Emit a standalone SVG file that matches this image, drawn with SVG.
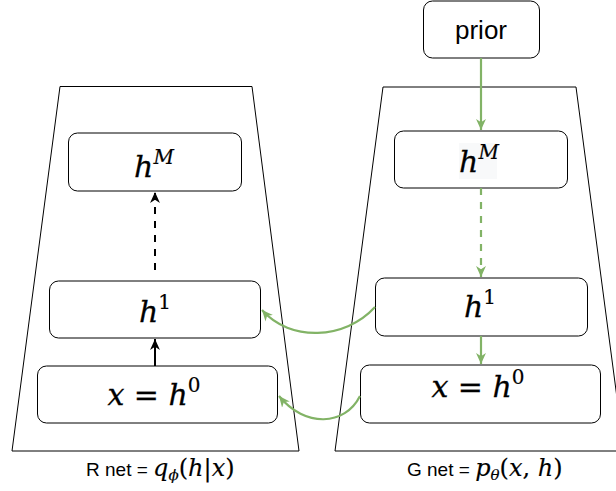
<svg xmlns="http://www.w3.org/2000/svg" width="616" height="491" viewBox="0 0 616 491">
<defs>
<style>
.trap{fill:#fff;stroke:#000;stroke-width:1}
.box{fill:#fff;stroke:#000;stroke-width:1}
.m{font-family:"DejaVu Serif","Liberation Serif",serif;font-style:italic;font-size:30px;fill:#000;stroke:#000;stroke-width:0.3;text-anchor:middle}
.up{font-style:normal}
.sup{font-size:20px;stroke-width:0.2}
.lbl{font-family:"Liberation Sans",Arial,sans-serif;font-size:19px;fill:#000}
.lm{font-family:"DejaVu Serif","Liberation Serif",serif;font-style:italic;font-size:24px;stroke:#000;stroke-width:0.15}
.sub{font-size:15px}
.k{stroke:#000;stroke-width:2;fill:none}
.g{stroke:#82b366;stroke-width:2.2;fill:none}
.d{stroke-dasharray:7 7}
</style>
<marker id="ak" viewBox="0 0 10 10" refX="10" refY="5" markerWidth="11" markerHeight="11" markerUnits="userSpaceOnUse" orient="auto"><path d="M0,0.5 L10,5 L0,9.5 L3,5 z" fill="#000"/></marker>
<marker id="ag" viewBox="0 0 10 10" refX="10" refY="5" markerWidth="11" markerHeight="11" markerUnits="userSpaceOnUse" orient="auto"><path d="M0,0.5 L10,5 L0,9.5 L3,5 z" fill="#82b366"/></marker>
</defs>
<rect width="616" height="491" fill="#fff"/>
<g id="rnet-frame"><path class="trap" d="M60,86.5 L252,86.5 L299,451 L12,451 Z"/></g>
<g id="gnet-frame"><path class="trap" d="M383,87 L576,87 L624,451 L335,451 Z"/></g>
<g id="r-hM"><rect class="box" x="68.5" y="133" width="173" height="58" rx="9"/><text class="m" x="154" y="177">h<tspan class="sup" dy="-13">M</tspan></text></g>
<g id="r-h1"><rect class="box" x="49.5" y="281" width="211" height="57" rx="9"/><text class="m" x="155" y="322">h<tspan class="sup up" dy="-13">1</tspan></text></g>
<g id="r-x"><rect class="box" x="37.5" y="366" width="240" height="57" rx="9"/><text class="m" x="154" y="405">x <tspan class="up">=</tspan> h<tspan class="sup up" dy="-13">0</tspan></text></g>
<g id="prior"><rect class="box" x="423.5" y="1" width="116" height="57" rx="9"/><text class="lbl" x="481" y="39" text-anchor="middle" style="font-size:26px">prior</text></g>
<g id="g-hM"><rect class="box" x="394.5" y="131" width="173" height="57" rx="9"/><rect x="459" y="143" width="38" height="36" fill="#f8f9fa"/><text class="m" x="479" y="172">h<tspan class="sup" dy="-13">M</tspan></text></g>
<g id="g-h1"><rect class="box" x="375.5" y="278" width="212" height="58" rx="9"/><text class="m" x="480" y="317">h<tspan class="sup up" dy="-13">1</tspan></text></g>
<g id="g-x"><rect class="box" x="360.5" y="365" width="240" height="58" rx="9"/><text class="m" x="478" y="397">x <tspan class="up">=</tspan> h<tspan class="sup up" dy="-13">0</tspan></text></g>
<g id="connectors">
<path class="k" d="M155,366 V339" marker-end="url(#ak)"/>
<path class="k d" d="M155,270 V192" marker-end="url(#ak)"/>
<path class="g" d="M481,58 V130" marker-end="url(#ag)"/>
<path class="g d" d="M481,188 V277" marker-end="url(#ag)"/>
<path class="g" d="M481,336 V364" marker-end="url(#ag)"/>
<path class="g" d="M375,307 C345,340 290,342 262,310" marker-end="url(#ag)"/>
<path class="g" d="M360,396 C345,426 305,428 279,396" marker-end="url(#ag)"/>
</g>
<g id="labels">
<text class="lbl" x="86" y="476">R net = <tspan class="lm">q<tspan class="sub" dy="4">ϕ</tspan><tspan dy="-4" class="up">(</tspan>h<tspan class="up">|</tspan>x<tspan class="up">)</tspan></tspan></text>
<text class="lbl" x="407" y="476">G net = <tspan class="lm">p<tspan class="sub" dy="4">θ</tspan><tspan dy="-4" class="up">(</tspan>x<tspan class="up">, </tspan>h<tspan class="up">)</tspan></tspan></text>
</g>
</svg>
